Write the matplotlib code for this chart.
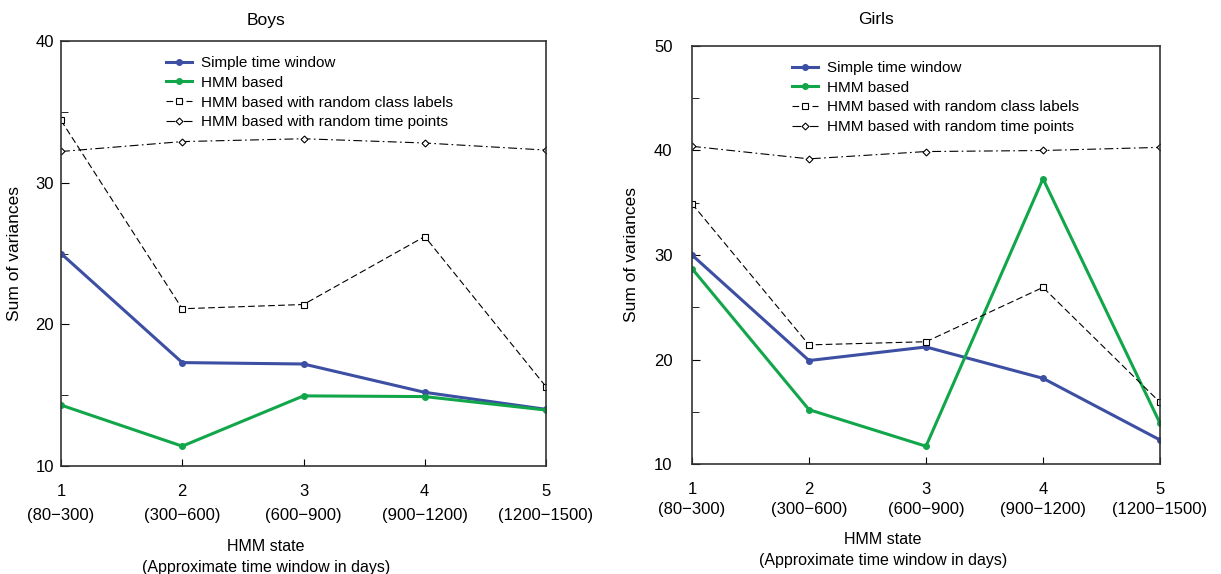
import numpy as np
import matplotlib.pyplot as plt
from matplotlib.ticker import MultipleLocator

plt.rcParams["font.family"] = ["Liberation Sans", "DejaVu Sans"]

states = [1, 2, 3, 4, 5]
state_labels = ["1\n(80\u2212300)", "2\n(300\u2212600)", "3\n(600\u2212900)",
                "4\n(900\u22121200)", "5\n(1200\u22121500)"]

boys_simple = [25.0, 17.3, 17.2, 15.2, 14.0]
boys_hmm = [14.3, 11.4, 14.95, 14.9, 13.95]
boys_rand_class = [34.4, 21.1, 21.4, 26.2, 15.6]
boys_rand_time = [32.2, 32.9, 33.1, 32.8, 32.3]

girls_simple = [30.0, 19.9, 21.2, 18.2, 12.3]
girls_hmm = [28.7, 15.2, 11.7, 37.3, 13.9]
girls_rand_class = [34.9, 21.4, 21.7, 26.9, 15.9]
girls_rand_time = [40.4, 39.2, 39.9, 40.0, 40.3]

BLUE = "#3c4fa3"
GREEN = "#12a64b"
W, H = 1221, 574


def draw_panel(ax, simple, hmm, rand_class, rand_time, ylim,
               legend_right, ylab_x, tick_pad, tick_ls):
    ax.plot(states, simple, color=BLUE, lw=2.2, marker="o", ms=4,
            label="Simple time window")
    ax.plot(states, hmm, color=GREEN, lw=2.2, marker="o", ms=4,
            label="HMM based")
    ax.plot(states, rand_class, color="black", lw=0.8, ls=(0, (6, 3)),
            marker="s", ms=5, mfc="white", mew=0.8,
            label="HMM based with random class labels")
    ax.plot(states, rand_time, color="black", lw=0.8, ls=(0, (8, 3, 1.5, 3)),
            marker="D", ms=3.5, mfc="white", mew=0.8,
            label="HMM based with random time points")

    ax.set_xlim(1, 5)
    ax.set_ylim(*ylim)
    ax.yaxis.set_major_locator(MultipleLocator(10))
    ax.yaxis.set_minor_locator(MultipleLocator(5))
    ax.set_xticks(states)
    ax.set_xticklabels(state_labels, linespacing=tick_ls)
    ax.tick_params(axis="both", which="both", direction="in", labelsize=12)
    ax.tick_params(axis="y", which="major", length=6, pad=tick_pad)
    ax.tick_params(axis="y", which="minor", length=5)
    ax.tick_params(axis="x", length=5, pad=13)
    for s in ax.spines.values():
        s.set_linewidth(1.2)
        s.set_color("#333333")
    ax.set_ylabel("Sum of variances", fontsize=12.5)
    ax.yaxis.set_label_coords(ylab_x, 0.5)
    ax.legend(loc="upper right", bbox_to_anchor=(legend_right, 0.99), frameon=False,
              fontsize=11, handlelength=1.7, handletextpad=0.6,
              labelspacing=0.38, borderaxespad=0.3)


fig = plt.figure(figsize=(12.21, 5.74), dpi=100)
ax1 = fig.add_axes([61 / W, 1 - 466 / H, 485 / W, 425 / H])
ax2 = fig.add_axes([692 / W, 1 - 464 / H, 468 / W, 418 / H])

draw_panel(ax1, boys_simple, boys_hmm, boys_rand_class, boys_rand_time, (10, 40),
           0.83, -0.08, 5, 1.75)
draw_panel(ax2, girls_simple, girls_hmm, girls_rand_class, girls_rand_time, (10, 50),
           0.85, -0.113, 14, 1.4)

fig.text(266 / W, 1 - 20 / H, "Boys", fontsize=12.5, ha="center", va="center")
fig.text(876 / W, 1 - 20 / H, "Girls", fontsize=12.5, ha="center", va="center")
fig.text(266 / W, 1 - 557 / H, "HMM state\n(Approximate time window in days)",
         fontsize=11.5, ha="center", va="center", linespacing=1.45)
fig.text(883 / W, 1 - 550 / H, "HMM state\n(Approximate time window in days)",
         fontsize=11.5, ha="center", va="center", linespacing=1.45)

fig.savefig("out.png", dpi=100)
